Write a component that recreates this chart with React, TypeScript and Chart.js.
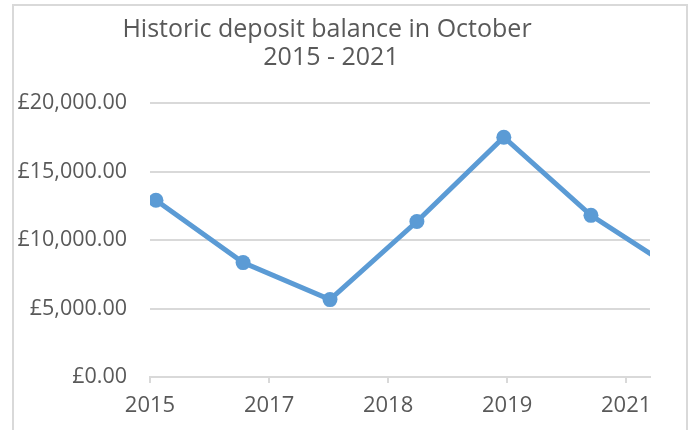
import React, { useEffect, useRef } from "react";
import { Chart, registerables } from "chart.js";

Chart.register(...registerables);

// ---- data ----
const titleLines = ["Historic deposit balance in October", "2015 - 2021"];
const pointDates = ["2015-10-01", "2016-10-01", "2017-10-01", "2018-10-01", "2019-10-01", "2020-10-01", "2021-10-01"];
const balances = [12900, 8350, 5650, 11350, 17500, 11800, 7700];
const tickLabels = ["2015", "2017", "2018", "2019", "2021"];
const axisStartDate = "2015-09-06";
const tickStepDays = 500;
const axisSpanDays = 2100;
const yMin = 0;
const yMax = 20000;
const yStep = 5000;

const DAY = 86400000;
const toDay = (s: string) => Math.round(Date.parse(s + "T00:00:00Z") / DAY);

const FONT = "'Open Sans', 'Noto Sans', sans-serif";
const TEXT = "#595959";
const GRID = "#d9d9d9";
const LINE = "#5b9bd5";

const titlePlugin = {
  id: "customTitle",
  afterDraw(chart: any) {
    const ctx = chart.ctx;
    ctx.save();
    ctx.fillStyle = TEXT;
    ctx.font = `25px ${FONT}`;
    ctx.textAlign = "center";
    ctx.textBaseline = "alphabetic";
    ctx.fillText(titleLines[0], 327, 37);
    ctx.fillText(titleLines[1], 331, 65);
    ctx.restore();
  },
};

export default function App() {
  const ref = useRef<HTMLCanvasElement | null>(null);
  useEffect(() => {
    document.body.style.margin = "0";
    const start = toDay(axisStartDate);
    const pts = pointDates.map((d, i) => ({ x: toDay(d) - start, y: balances[i] }));
    const chart = new Chart(ref.current as HTMLCanvasElement, {
      type: "line",
      data: {
        datasets: [
          {
            data: pts,
            borderColor: LINE,
            backgroundColor: LINE,
            borderWidth: 5,
            pointRadius: 7.5,
            pointBackgroundColor: LINE,
            pointBorderColor: LINE,
            pointBorderWidth: 0,
            tension: 0,
          },
        ],
      },
      options: {
        responsive: false,
        animation: false,
        layout: { padding: { left: 0, right: 45, top: 103, bottom: 0 } },
        plugins: { legend: { display: false }, tooltip: { enabled: false }, title: { display: false } },
        scales: {
          x: {
            type: "linear",
            min: 0,
            max: axisSpanDays,
            afterBuildTicks: (scale: any) => {
              scale.ticks = tickLabels.map((_, i) => ({ value: i * tickStepDays }));
            },
            afterFit: (scale: any) => {
              scale.height = 430 - 377;
            },
            ticks: {
              autoSkip: false,
              maxRotation: 0,
              color: TEXT,
              font: { family: FONT, size: 22 },
              padding: 10,
              callback: (_v: any, i: number) => tickLabels[i],
            },
            grid: { drawOnChartArea: false, drawTicks: true, tickLength: 6, color: GRID, lineWidth: 2 },
            border: { display: true, color: GRID, width: 2 },
          },
          y: {
            min: yMin,
            max: yMax,
            afterFit: (scale: any) => {
              scale.width = 150;
            },
            ticks: {
              stepSize: yStep,
              color: TEXT,
              font: { family: FONT, size: 21.5 },
              padding: 23,
              callback: (v: any) =>
                "£" + Number(v).toLocaleString("en-GB", { minimumFractionDigits: 2, maximumFractionDigits: 2 }),
            },
            grid: { drawTicks: false, color: GRID, lineWidth: 2 },
            border: { display: false },
          },
        },
      },
      plugins: [titlePlugin],
    });
    return () => chart.destroy();
  }, []);

  return (
    <div style={{ position: "relative", width: 695, height: 430, overflow: "hidden", background: "#fff" }}>
      <div
        style={{
          position: "absolute",
          left: 12,
          top: 4,
          width: 676,
          height: 520,
          border: `2px solid ${GRID}`,
          boxSizing: "border-box",
        }}
      />
      <canvas ref={ref} width={695} height={430} style={{ position: "absolute", left: 0, top: 0 }} />
    </div>
  );
}
